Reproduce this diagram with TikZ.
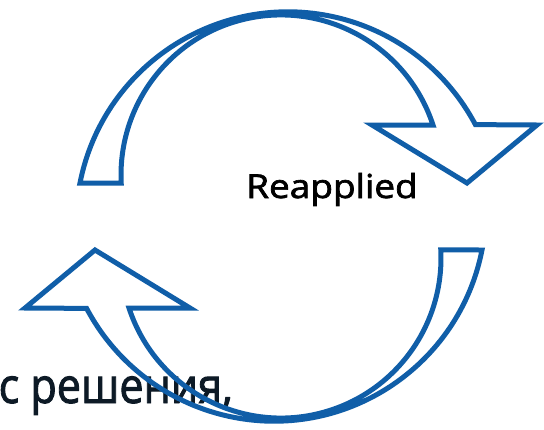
\documentclass[tikz,border=0pt]{standalone}
\usepackage{fontspec}
\setmainfont{Open Sans}
\newfontfamily\slidefont[FakeBold=2]{Open Sans}
\definecolor{cycleblue}{RGB}{16,94,168}
\definecolor{inkdark}{HTML}{0D1A26}
\tikzset{
  cyclearrow/.style={draw=cycleblue, line width=5pt, line join=miter},
  captext/.style={inner sep=0pt, text=black}
}
\begin{document}
\begin{tikzpicture}[x=1pt,y=-1pt]
        \useasboundingbox (0,0) rectangle (544,429);

        % Texts
        \node[captext, font=\slidefont\fontsize{33}{38}\selectfont, anchor=base west] (reapplied) at (246,198) {\scalebox{1.12}[1]{Reapplied}};
        \node[captext, text=inkdark, font=\slidefont\fontsize{49}{56}\selectfont, anchor=base east] (decision) at (233,403) {\scalebox{0.88}[1]{с решения,}};

        % Cycle arrows: the lower one is the upper one turned half round
        \foreach \turn in {0,180}
          \draw[cyclearrow, rotate around={\turn:(281,216.5)}]
            (80,183) arc[start angle=-168.9, end angle=-27.9, radius=212]
            -- (537,125) -- (467,183) -- (372,125) -- (433,125)
            arc[start angle=-18.2, end angle=-182.9, radius=160] -- cycle;
    \end{tikzpicture}
\end{document}
